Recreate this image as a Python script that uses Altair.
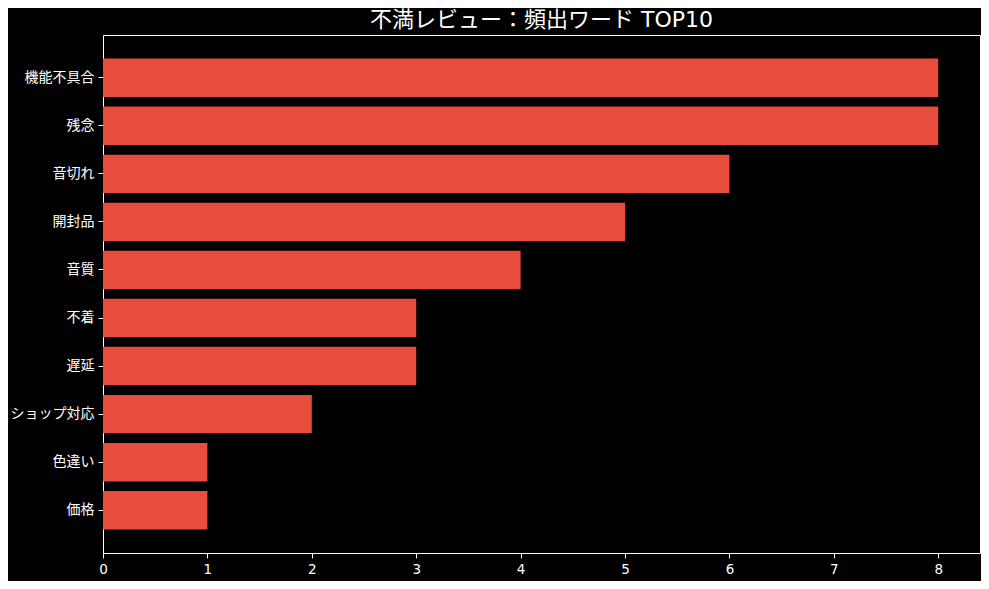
import altair as alt
import pandas as pd

words = ["機能不具合", "残念", "音切れ", "開封品", "音質", "不着", "遅延", "ショップ対応", "色違い", "価格"]
counts = [8, 8, 6, 5, 4, 3, 3, 2, 1, 1]

df = pd.DataFrame({"word": words, "count": counts})

FONT = "DejaVu Sans, Noto Sans CJK JP"

chart = alt.Chart(df).mark_bar(color="#e74c3c").encode(
    x=alt.X("count:Q",
            scale=alt.Scale(domain=[0, 8.4], nice=False, zero=True),
            axis=alt.Axis(values=[0, 1, 2, 3, 4, 5, 6, 7, 8], format="d", title=None,
                          grid=False, domain=False, tickColor="white", tickSize=5,
                          labelColor="white", labelFontSize=13.5, labelFont=FONT,
                          labelPadding=4, labelFlush=False)),
    y=alt.Y("word:N", sort=words,
            scale=alt.Scale(paddingInner=0.2, paddingOuter=0.49),
            axis=alt.Axis(title=None, grid=False, domain=False, tickColor="white", tickSize=5,
                          labelColor="white", labelFontSize=14, labelFont=FONT,
                          labelPadding=4)),
).properties(
    width=877,
    height=518,
    title=alt.TitleParams("不満レビュー：頻出ワード TOP10", color="white", fontSize=22,
                          font=FONT, fontWeight="normal", anchor="middle", offset=3),
    background="black",
    padding={"left": 95, "top": 27, "right": 1, "bottom": 28},
    autosize=alt.AutoSizeParams(type="none"),
).configure_view(stroke="white", strokeWidth=1)

chart.save("out.html", embed_options={"renderer": "svg", "actions": False})
